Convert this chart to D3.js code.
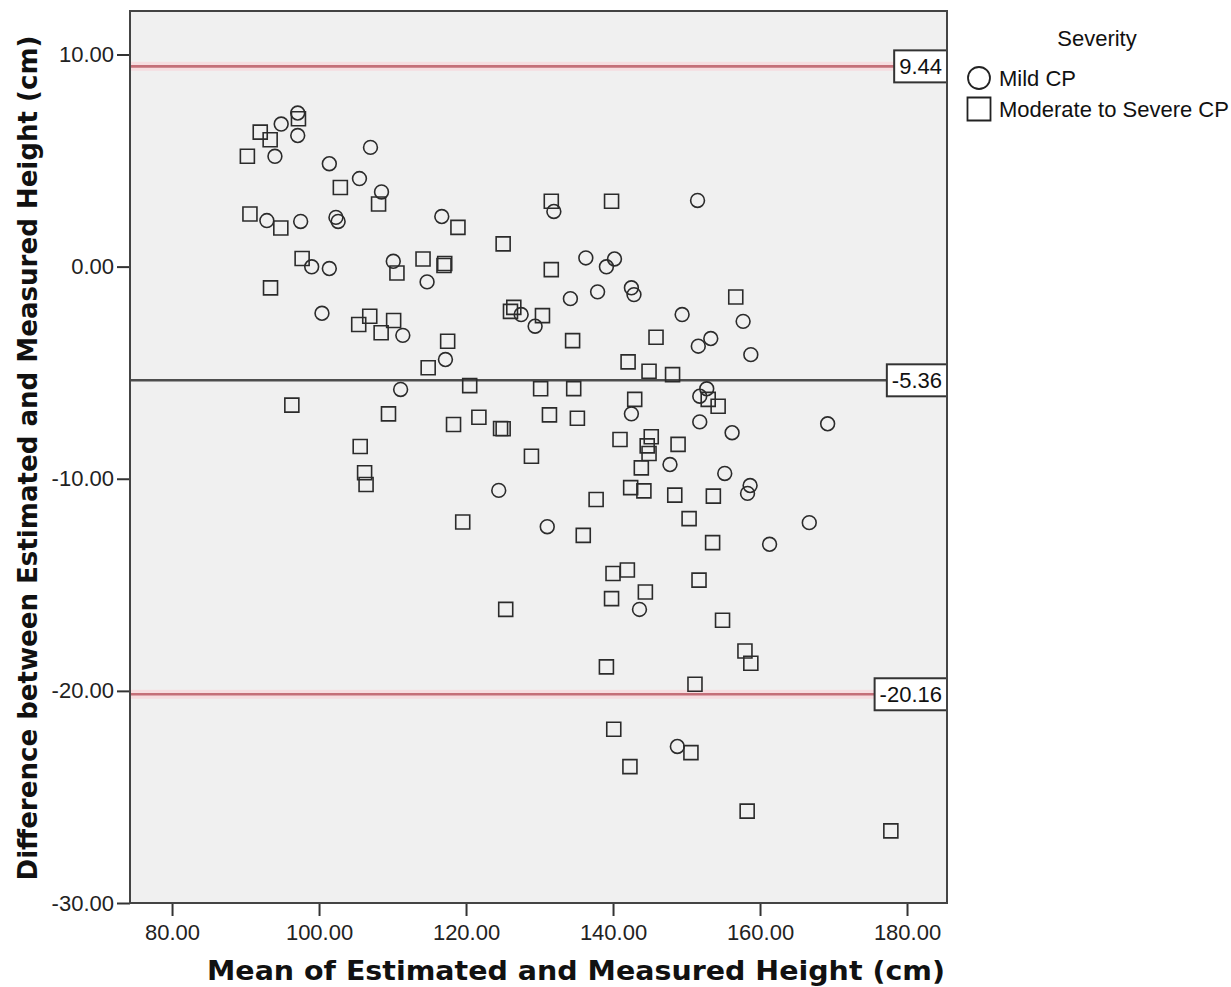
<!DOCTYPE html>
<html>
<head>
<meta charset="utf-8">
<script src="https://cdn.jsdelivr.net/npm/d3@7"></script>
<style>
  body { margin: 0; background: #fff; }
  .axis text { font-family: "Liberation Sans", Arial, sans-serif; font-size: 22px; fill: #222; }
  .axis path { display: none; }
  .axis line { stroke: #333; stroke-width: 2; }
</style>
</head>
<body>
<div class="chart"></div>
<script>
// data
var mildX = [97.1, 94.85, 97.1, 94.0, 107.0, 101.4, 105.5, 108.5, 92.9, 97.5, 102.3, 102.6, 116.7, 99.0, 101.4, 110.1, 114.7,
  127.5, 131.95, 151.5, 136.3, 140.2, 139.1, 134.2, 137.9, 142.5, 142.85, 129.4, 149.4, 157.7, 151.6, 153.3, 158.75,
  152.75, 151.8, 142.5, 151.8, 156.2, 147.75, 155.2, 158.65, 158.3, 111.1, 117.2, 111.4, 100.4, 124.45, 131.05, 161.3,
  166.7, 143.6, 148.75, 169.2];
var mildY = [7.24, 6.72, 6.18, 5.2, 5.62, 4.85, 4.15, 3.52, 2.17, 2.13, 2.32, 2.13, 2.36, -0.01, -0.09, 0.25, -0.72,
  -2.26, 2.6, 3.12, 0.41, 0.36, -0.01, -1.51, -1.19, -1.0, -1.32, -2.81, -2.26, -2.58, -3.75, -3.39, -4.15,
  -5.76, -6.11, -6.94, -7.32, -7.83, -9.33, -9.75, -10.32, -10.69, -5.79, -4.38, -3.24, -2.2, -10.55, -12.26, -13.09,
  -12.07, -16.16, -22.62, -7.41];

var severeX = [97.2, 92.0, 93.35, 90.25, 102.9, 108.1, 90.6, 94.8, 118.9, 125.05, 97.7, 93.4, 114.15, 117.0, 117.1, 110.6,
  131.6, 139.8, 131.6, 156.7, 126.5, 126.05, 130.4, 134.5, 145.85, 142.05, 144.9, 148.1, 130.15, 134.65, 152.95, 154.3,
  142.95, 131.35, 135.15, 125.05, 140.95, 145.2, 144.65, 144.9, 148.85, 128.9, 143.85, 142.4, 144.2, 148.4, 153.65, 137.7,
  150.35, 120.5, 96.3, 109.45, 118.3, 121.75, 124.7, 105.6, 106.2, 106.4, 114.85, 117.5, 105.4, 106.9, 108.45, 110.15,
  119.55, 135.95, 153.55, 140.0, 141.95, 151.7, 144.4, 139.8, 125.4, 154.9, 157.95, 158.75, 139.1, 151.15, 140.1, 150.6,
  142.3, 158.25, 177.8];
var severeY = [6.97, 6.34, 5.98, 5.2, 3.73, 2.95, 2.48, 1.82, 1.85, 1.07, 0.38, -1.0, 0.36, 0.05, 0.15, -0.3,
  3.08, 3.08, -0.14, -1.43, -1.92, -2.11, -2.31, -3.49, -3.33, -4.49, -4.93, -5.09, -5.76, -5.75, -6.26, -6.58,
  -6.26, -6.99, -7.15, -7.64, -8.15, -8.02, -8.45, -8.81, -8.38, -8.94, -9.49, -10.42, -10.57, -10.77, -10.82, -10.98,
  -11.88, -5.61, -6.53, -6.94, -7.44, -7.1, -7.63, -8.48, -9.72, -10.27, -4.77, -3.52, -2.73, -2.34, -3.12, -2.54,
  -12.04, -12.67, -13.01, -14.47, -14.3, -14.78, -15.34, -15.65, -16.16, -16.67, -18.12, -18.7, -18.87, -19.69, -21.81, -22.91,
  -23.57, -25.67, -26.6];

var refValues = [9.44, -5.36, -20.16];
var refColors = ["#c46f78", "#4d4d4d", "#c46f78"];
var xTicks = [80, 100, 120, 140, 160, 180];
var yTicks = [10, 0, -10, -20, -30];
var seriesNames = ["Mild CP", "Moderate to Severe CP"];

// chart size
var svgWidth = 1231;
var svgHeight = 987;
var plot = { left: 130, top: 11, right: 947, bottom: 903 };

var svg = d3.select(".chart")
  .append("svg")
  .attr("width", svgWidth)
  .attr("height", svgHeight);

var xScale = d3.scaleLinear().domain([74.28, 185.44]).range([plot.left, plot.right]);
var yScale = d3.scaleLinear().domain([-30, 12.05]).range([plot.bottom, plot.top]);

// SPSS style labels use a plain hyphen
var fmt = d => d.toFixed(2);

// plot background
svg.append("rect")
  .attr("x", plot.left)
  .attr("y", plot.top)
  .attr("width", plot.right - plot.left)
  .attr("height", plot.bottom - plot.top)
  .attr("fill", "#f0f0f0");

// axes
svg.append("g")
  .attr("class", "axis")
  .attr("transform", `translate(0, ${plot.bottom})`)
  .call(d3.axisBottom(xScale).tickValues(xTicks).tickSize(13).tickPadding(8).tickFormat(fmt));

svg.append("g")
  .attr("class", "axis")
  .attr("transform", `translate(${plot.left}, 0)`)
  .call(d3.axisLeft(yScale).tickValues(yTicks).tickSize(13).tickPadding(3).tickFormat(fmt));

// reference lines
var refGroup = svg.append("g");
refValues.forEach(function (v, i) {
  if (i !== 1) {
    refGroup.append("line")
      .attr("x1", plot.left).attr("x2", plot.right)
      .attr("y1", yScale(v)).attr("y2", yScale(v))
      .attr("stroke", "#f6dde0")
      .attr("stroke-width", 9);
  }
  refGroup.append("line")
    .attr("x1", plot.left).attr("x2", plot.right)
    .attr("y1", yScale(v)).attr("y2", yScale(v))
    .attr("stroke", refColors[i])
    .attr("stroke-width", 2.6);
});

// points
var circleSym = d3.symbol().type(d3.symbolCircle).size(150);
var squareSym = d3.symbol().type(d3.symbolSquare).size(196);

svg.append("g").selectAll("path")
  .data(mildX.map((x, i) => [x, mildY[i]]))
  .enter()
  .append("path")
  .attr("d", circleSym)
  .attr("transform", d => `translate(${xScale(d[0])}, ${yScale(d[1])})`)
  .attr("fill", "none")
  .attr("stroke", "#2b2b2b")
  .attr("stroke-width", 1.6);

svg.append("g").selectAll("path")
  .data(severeX.map((x, i) => [x, severeY[i]]))
  .enter()
  .append("path")
  .attr("d", squareSym)
  .attr("transform", d => `translate(${xScale(d[0])}, ${yScale(d[1])})`)
  .attr("fill", "none")
  .attr("stroke", "#2b2b2b")
  .attr("stroke-width", 1.6);

// reference labels
refValues.forEach(function (v) {
  var g = svg.append("g");
  var t = g.append("text")
    .attr("x", plot.right - 5)
    .attr("y", yScale(v))
    .attr("dy", "0.36em")
    .attr("text-anchor", "end")
    .attr("font-family", "Liberation Sans, Arial, sans-serif")
    .attr("font-size", 22)
    .attr("fill", "#111")
    .text(fmt(v));
  var w = t.node().getComputedTextLength();
  g.insert("rect", "text")
    .attr("x", plot.right - w - 10)
    .attr("y", yScale(v) - 16)
    .attr("width", w + 10)
    .attr("height", 32)
    .attr("fill", "#fff")
    .attr("stroke", "#333")
    .attr("stroke-width", 2);
});

// frame
svg.append("rect")
  .attr("x", plot.left)
  .attr("y", plot.top)
  .attr("width", plot.right - plot.left)
  .attr("height", plot.bottom - plot.top)
  .attr("fill", "none")
  .attr("stroke", "#444")
  .attr("stroke-width", 2);

// axis titles
svg.append("text")
  .attr("x", 576)
  .attr("y", 980)
  .attr("text-anchor", "middle")
  .attr("font-family", "DejaVu Sans, Verdana, sans-serif")
  .attr("font-weight", "bold")
  .attr("font-size", 26)
  .attr("textLength", 738)
  .attr("lengthAdjust", "spacingAndGlyphs")
  .attr("fill", "#111")
  .text("Mean of Estimated and Measured Height (cm)");

svg.append("text")
  .attr("transform", "translate(37, 458) rotate(-90)")
  .attr("text-anchor", "middle")
  .attr("font-family", "DejaVu Sans, Verdana, sans-serif")
  .attr("font-weight", "bold")
  .attr("font-size", 26)
  .attr("textLength", 845)
  .attr("lengthAdjust", "spacingAndGlyphs")
  .attr("fill", "#111")
  .text("Difference between Estimated and Measured Height  (cm)");

// legend
var legend = svg.append("g").attr("font-family", "Liberation Sans, Arial, sans-serif").attr("font-size", 22).attr("fill", "#111");
legend.append("text")
  .attr("x", 1097).attr("y", 46)
  .attr("text-anchor", "middle")
  .text("Severity");

legend.append("path")
  .attr("d", d3.symbol().type(d3.symbolCircle).size(380))
  .attr("transform", "translate(979, 78)")
  .attr("fill", "none").attr("stroke", "#222").attr("stroke-width", 1.8);
legend.append("path")
  .attr("d", d3.symbol().type(d3.symbolSquare).size(530))
  .attr("transform", "translate(979, 109)")
  .attr("fill", "none").attr("stroke", "#222").attr("stroke-width", 1.8);

seriesNames.forEach(function (name, i) {
  legend.append("text")
    .attr("x", 999)
    .attr("y", 78 + i * 31)
    .attr("dy", "0.36em")
    .text(name);
});
</script>
</body>
</html>
